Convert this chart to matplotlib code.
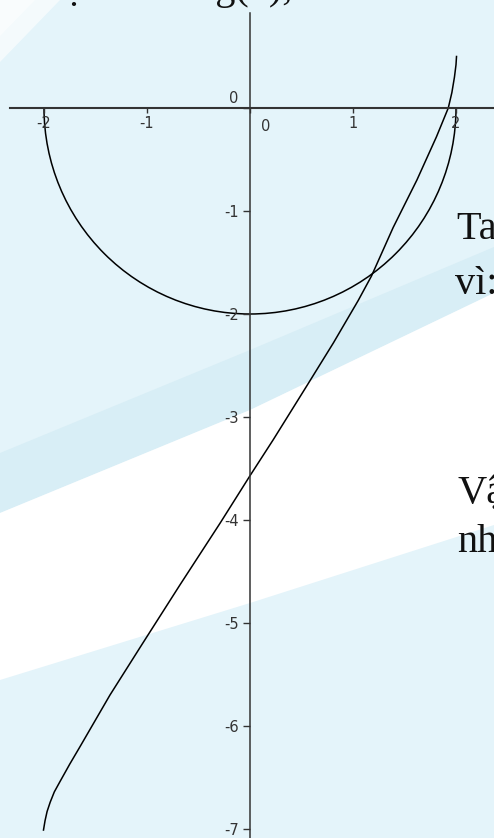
import matplotlib
matplotlib.use('Agg')
import matplotlib.pyplot as plt
from matplotlib.patches import Arc, Polygon

# circle x^2 + y^2 = 4 (lower half)
circle_center = (0.0, 0.0)
circle_radius = 2.0

# second curve
curve_x = [-2.005, -1.99, -1.97, -1.94, -1.90, -1.845, -1.75, -1.65, -1.36, -1.05,
           -0.68, -0.29, 0.0, 0.226, 0.55, 0.81, 1.05, 1.18, 1.39, 1.62, 1.81,
           1.925, 1.96, 1.985, 2.0, 2.005]
curve_y = [-7.01, -6.92, -6.83, -6.74, -6.64, -6.54, -6.37, -6.20, -5.70, -5.21,
           -4.63, -4.03, -3.57, -3.22, -2.70, -2.28, -1.87, -1.63, -1.16, -0.70, -0.28,
           0.0, 0.15, 0.30, 0.42, 0.50]

xticks = [-2, -1, 0, 1, 2]
yticks = [-7, -6, -5, -4, -3, -2, -1, 0]

W, H = 494, 838
PX = 103.0          # pixels per unit
ORIGIN = (250, 108)  # pixel position of (0, 0)

fig = plt.figure(figsize=(W / 100, H / 100), dpi=100)

# --- background (slide behind the graph), pixel coordinates ---
bg = fig.add_axes([0, 0, 1, 1], zorder=0)
bg.set_xlim(0, W)
bg.set_ylim(H, 0)
bg.axis('off')
bg.add_patch(Polygon([(0, 0), (W, 0), (W, H), (0, H)], closed=True, color='#e4f4fa', lw=0))
bg.add_patch(Polygon([(0, 0), (60, 0), (0, 62)], closed=True, color='white', alpha=0.6, lw=0))
bg.add_patch(Polygon([(0, 0), (35, 0), (0, 36)], closed=True, color='white', alpha=0.5, lw=0))
bg.add_patch(Polygon([(0, 453), (250, 350), (494, 247), (494, 293), (250, 410), (0, 513)],
                     closed=True, color='#d8eef6', lw=0))
bg.add_patch(Polygon([(0, 513), (250, 410), (494, 293), (494, 525), (250, 603), (0, 680)],
                     closed=True, color='white', lw=0))

serif = dict(family='Liberation Serif', fontsize=29, color='#111111')
bg.text(-22, -1, "Đồ thị hàm số g(x), x", va='baseline', **serif)
bg.text(457, 239, "Ta có", va='baseline', **serif)
bg.text(455, 294, "vì:", va='baseline', **serif)
bg.text(457, 503, "Vậy", va='baseline', **serif)
bg.text(457, 552, "nhưng", va='baseline', **serif)

# --- the graph ---
ax = fig.add_axes([0, 0, 1, 1], zorder=1)
ax.patch.set_alpha(0)
ax.set_xlim(-ORIGIN[0] / PX, (W - ORIGIN[0]) / PX)
ax.set_ylim(-(H - ORIGIN[1]) / PX, ORIGIN[1] / PX)

ax.add_patch(Arc(circle_center, 2 * circle_radius, 2 * circle_radius,
                 theta1=180, theta2=360, color='black', lw=1.1))
ax.plot(curve_x, curve_y, color='black', lw=1.1)

for s in ['top', 'right']:
    ax.spines[s].set_visible(False)
ax.spines['left'].set_position(('data', 0))
ax.spines['bottom'].set_position(('data', 0))
ax.spines['bottom'].set_bounds(-2.33, 2.4)
ax.spines['left'].set_bounds(-7.1, 0.92)
ax.spines['bottom'].set_linewidth(1.5)
ax.spines['left'].set_linewidth(1.1)
ax.spines['bottom'].set_color('#333333')
ax.spines['left'].set_color('#333333')

ax.set_xticks(xticks)
ax.set_xticklabels(['' if t == 0 else str(t) for t in xticks])
ax.set_yticks(yticks)
ax.set_yticklabels(['' if t == 0 else str(t) for t in yticks])
ax.tick_params(axis='x', direction='out', length=3.5, width=1, colors='#333333',
               labelsize=10.5, pad=2.5)
ax.tick_params(axis='y', direction='out', length=5, width=1, colors='#333333',
               labelsize=10.5, pad=3)
for lbl in ax.get_xticklabels() + ax.get_yticklabels():
    lbl.set_fontfamily('DejaVu Sans')

# the two "0" labels sit off the axes
ax.annotate("0", xy=(0, 0), xytext=(11, -13), textcoords='offset points',
            ha='center', va='center', fontsize=10.5, color='#333333')
ax.annotate("0", xy=(0, 0), xytext=(-12, 7), textcoords='offset points',
            ha='center', va='center', fontsize=10.5, color='#333333')

fig.savefig('out.png', dpi=100)
